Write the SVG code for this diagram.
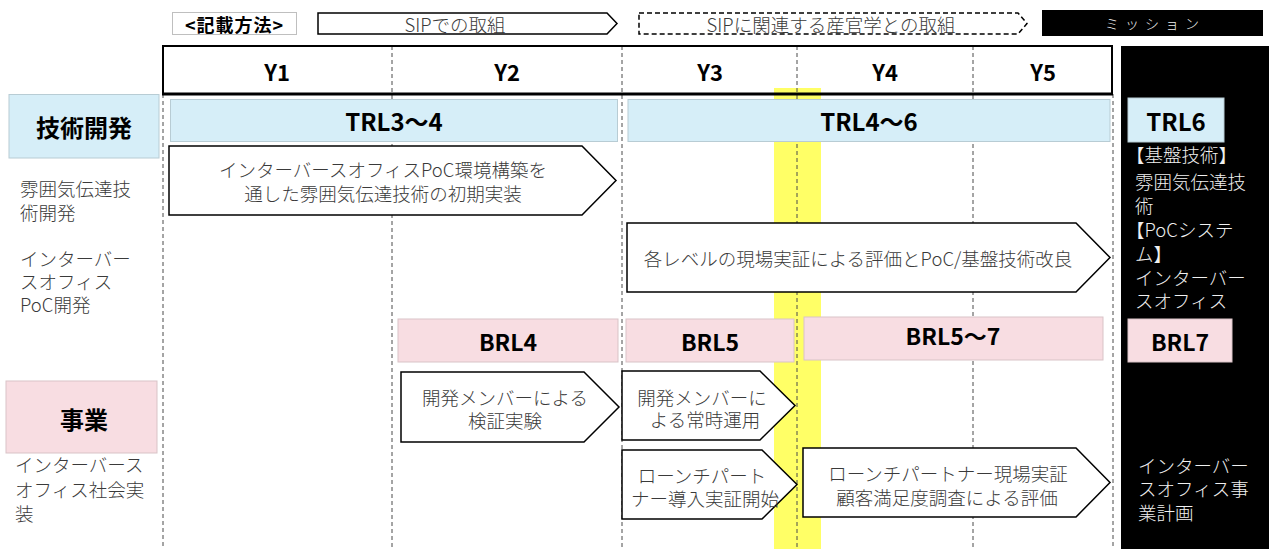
<svg xmlns="http://www.w3.org/2000/svg" width="1269" height="549" viewBox="0 0 1269 549">
<style>
text { font-family: "Noto Sans CJK JP", "Noto Sans", sans-serif; dominant-baseline: central; }
.t { font-size: 18.5px; fill: #3a3a3a; font-weight: 300; }
.m { text-anchor: middle; }
.b { font-weight: bold; fill: #000; }
.w { font-size: 18.5px; fill: #f0f0f0; font-weight: 300; }
.arrow { fill: #fff; stroke: #000; stroke-width: 1.5; stroke-linejoin: miter; }
.dash { stroke: #4a4a4a; stroke-width: 1; stroke-dasharray: 4 3; fill: none; }
.blue { fill: #d6eef8; stroke: #b8ccd4; stroke-width: 1; }
.pink { fill: #f8dde2; stroke: #d9c3c7; stroke-width: 1; }
</style>
<rect x="0" y="0" width="1269" height="549" fill="#fff"/>

<g id="legend">
  <g id="legend-method">
    <rect x="172.5" y="12.5" width="124" height="22" fill="#fff" stroke="#bfbfbf" stroke-width="1"/>
    <text class="b m" x="234.5" y="23.5" font-size="18" letter-spacing="1">&lt;記載方法&gt;</text>
  </g>
  <g id="legend-sip">
    <polygon class="arrow" points="318,13 607,13 617,23.5 607,34 318,34"/>
    <text class="t m" x="455" y="23.5" font-size="17.5">SIPでの取組</text>
  </g>
  <g id="legend-related">
    <polygon points="639,13 1018,13 1027,23.5 1018,34 639,34" fill="#fff" stroke="#000" stroke-width="1.5" stroke-dasharray="5 3"/>
    <text class="t m" x="831" y="23.5" font-size="17.5">SIPに関連する産官学との取組</text>
  </g>
  <g id="legend-mission">
    <rect x="1042" y="10" width="221" height="26" fill="#000"/>
    <text class="m" x="1155" y="23" font-size="14" fill="#f0f0f0" font-weight="300" letter-spacing="6">ミッション</text>
  </g>
</g>

<g id="background-layers">
  <rect x="163" y="46" width="949" height="48" fill="#fff"/>
  <rect id="milestone" x="774" y="88" width="47" height="461" fill="#ffff66"/>
  <rect id="mission-column" x="1121" y="46" width="148" height="503" fill="#000"/>
</g>

<g id="connectors">
  <line class="dash" x1="163" y1="94" x2="163" y2="549"/>
  <line class="dash" x1="392" y1="46" x2="392" y2="549"/>
  <line class="dash" x1="622" y1="46" x2="622" y2="549"/>
  <line class="dash" x1="797" y1="46" x2="797" y2="549"/>
  <line class="dash" x1="973" y1="46" x2="973" y2="549"/>
  <line class="dash" x1="1113" y1="94" x2="1113" y2="549"/>
</g>

<g id="header">
  <rect x="163" y="46" width="949" height="48" fill="none" stroke="#000" stroke-width="2"/>
  <line x1="162" y1="94" x2="1113" y2="94" stroke="#000" stroke-width="3"/>
  <text class="b m" x="277" y="71" font-size="22">Y1</text>
  <text class="b m" x="507" y="71" font-size="22">Y2</text>
  <text class="b m" x="710" y="71" font-size="22">Y3</text>
  <text class="b m" x="885" y="71" font-size="22">Y4</text>
  <text class="b m" x="1043" y="71" font-size="22">Y5</text>
</g>

<g id="tech-label">
  <rect class="blue" x="9" y="94.5" width="150" height="63.5"/>
  <text class="b m" x="84" y="126" font-size="24">技術開発</text>
</g>
<g id="biz-label">
  <rect class="pink" x="6" y="381" width="151" height="72"/>
  <text class="b m" x="84" y="418" font-size="24">事業</text>
</g>

<g id="trl34">
  <rect class="blue" x="170.5" y="99.5" width="447" height="42"/>
  <text class="b m" x="394" y="120" font-size="24">TRL3～4</text>
</g>
<g id="trl46">
  <rect class="blue" x="628" y="99.5" width="482" height="42"/>
  <text class="b m" x="869" y="120" font-size="24">TRL4～6</text>
</g>
<g id="trl6">
  <rect class="blue" x="1128" y="98" width="96" height="44"/>
  <text class="b m" x="1176" y="120" font-size="24">TRL6</text>
</g>

<g id="brl4">
  <rect class="pink" x="398" y="319" width="220" height="43"/>
  <text class="b m" x="508" y="341" font-size="23">BRL4</text>
</g>
<g id="brl5">
  <rect class="pink" x="626" y="319" width="168" height="43"/>
  <text class="b m" x="710" y="341" font-size="23">BRL5</text>
</g>
<g id="brl57">
  <rect class="pink" x="804" y="317" width="299" height="43"/>
  <text class="b m" x="953" y="335" font-size="23">BRL5～7</text>
</g>
<g id="brl7">
  <rect class="pink" x="1128" y="319" width="104" height="43"/>
  <text class="b m" x="1180" y="341" font-size="23">BRL7</text>
</g>

<g id="left-labels">
  <text class="t" x="20" y="188" font-size="19">雰囲気伝達技</text>
  <text class="t" x="20" y="212" font-size="19">術開発</text>
  <text class="t" x="20" y="258" font-size="19">インターバー</text>
  <text class="t" x="20" y="281" font-size="19">スオフィス</text>
  <text class="t" x="20" y="304" font-size="19">PoC開発</text>
  <text class="t" x="15" y="464" font-size="19">インターバース</text>
  <text class="t" x="15" y="489" font-size="19">オフィス社会実</text>
  <text class="t" x="15" y="513" font-size="19">装</text>
</g>

<g id="task-poc-env">
  <polygon class="arrow" points="169,146 582,146 616,180.5 582,215 169,215"/>
  <text class="t m" x="383" y="169">インターバースオフィスPoC環境構築を</text>
  <text class="t m" x="383" y="193">通した雰囲気伝達技術の初期実装</text>
</g>
<g id="task-field-eval">
  <polygon class="arrow" points="627,223 1076,223 1110,257.5 1076,292 627,292"/>
  <text class="t m" x="858" y="258">各レベルの現場実証による評価とPoC/基盤技術改良</text>
</g>
<g id="task-dev-verify">
  <polygon class="arrow" points="401,372 584,372 619,407 584,442 401,442"/>
  <text class="t m" x="505" y="397">開発メンバーによる</text>
  <text class="t m" x="505" y="420">検証実験</text>
</g>
<g id="task-dev-operate">
  <polygon class="arrow" points="622,371 760,371 795,405.5 760,440 622,440"/>
  <text class="t m" x="702" y="397">開発メンバーに</text>
  <text class="t m" x="705" y="419">よる常時運用</text>
</g>
<g id="task-launch-start">
  <polygon class="arrow" points="622,450 762,450 797,484.5 762,519 622,519"/>
  <text class="t m" x="702" y="475">ローンチパート</text>
  <text class="t m" x="705" y="498">ナー導入実証開始</text>
</g>
<g id="task-launch-eval">
  <polygon class="arrow" points="803,448 1076,448 1110,482.5 1076,517 803,517"/>
  <text class="t m" x="948" y="473">ローンチパートナー現場実証</text>
  <text class="t m" x="947" y="497">顧客満足度調査による評価</text>
</g>

<g id="mission-texts">
  <text class="w" x="1126" y="154">【基盤技術】</text>
  <text class="w" x="1135" y="181">雰囲気伝達技</text>
  <text class="w" x="1135" y="205">術</text>
  <text class="w" x="1126" y="229">【PoCシステ</text>
  <text class="w" x="1135" y="253">ム】</text>
  <text class="w" x="1135" y="277">インターバー</text>
  <text class="w" x="1135" y="300">スオフィス</text>
  <text class="w" x="1138" y="465">インターバー</text>
  <text class="w" x="1138" y="488">スオフィス事</text>
  <text class="w" x="1138" y="512">業計画</text>
</g>
</svg>
